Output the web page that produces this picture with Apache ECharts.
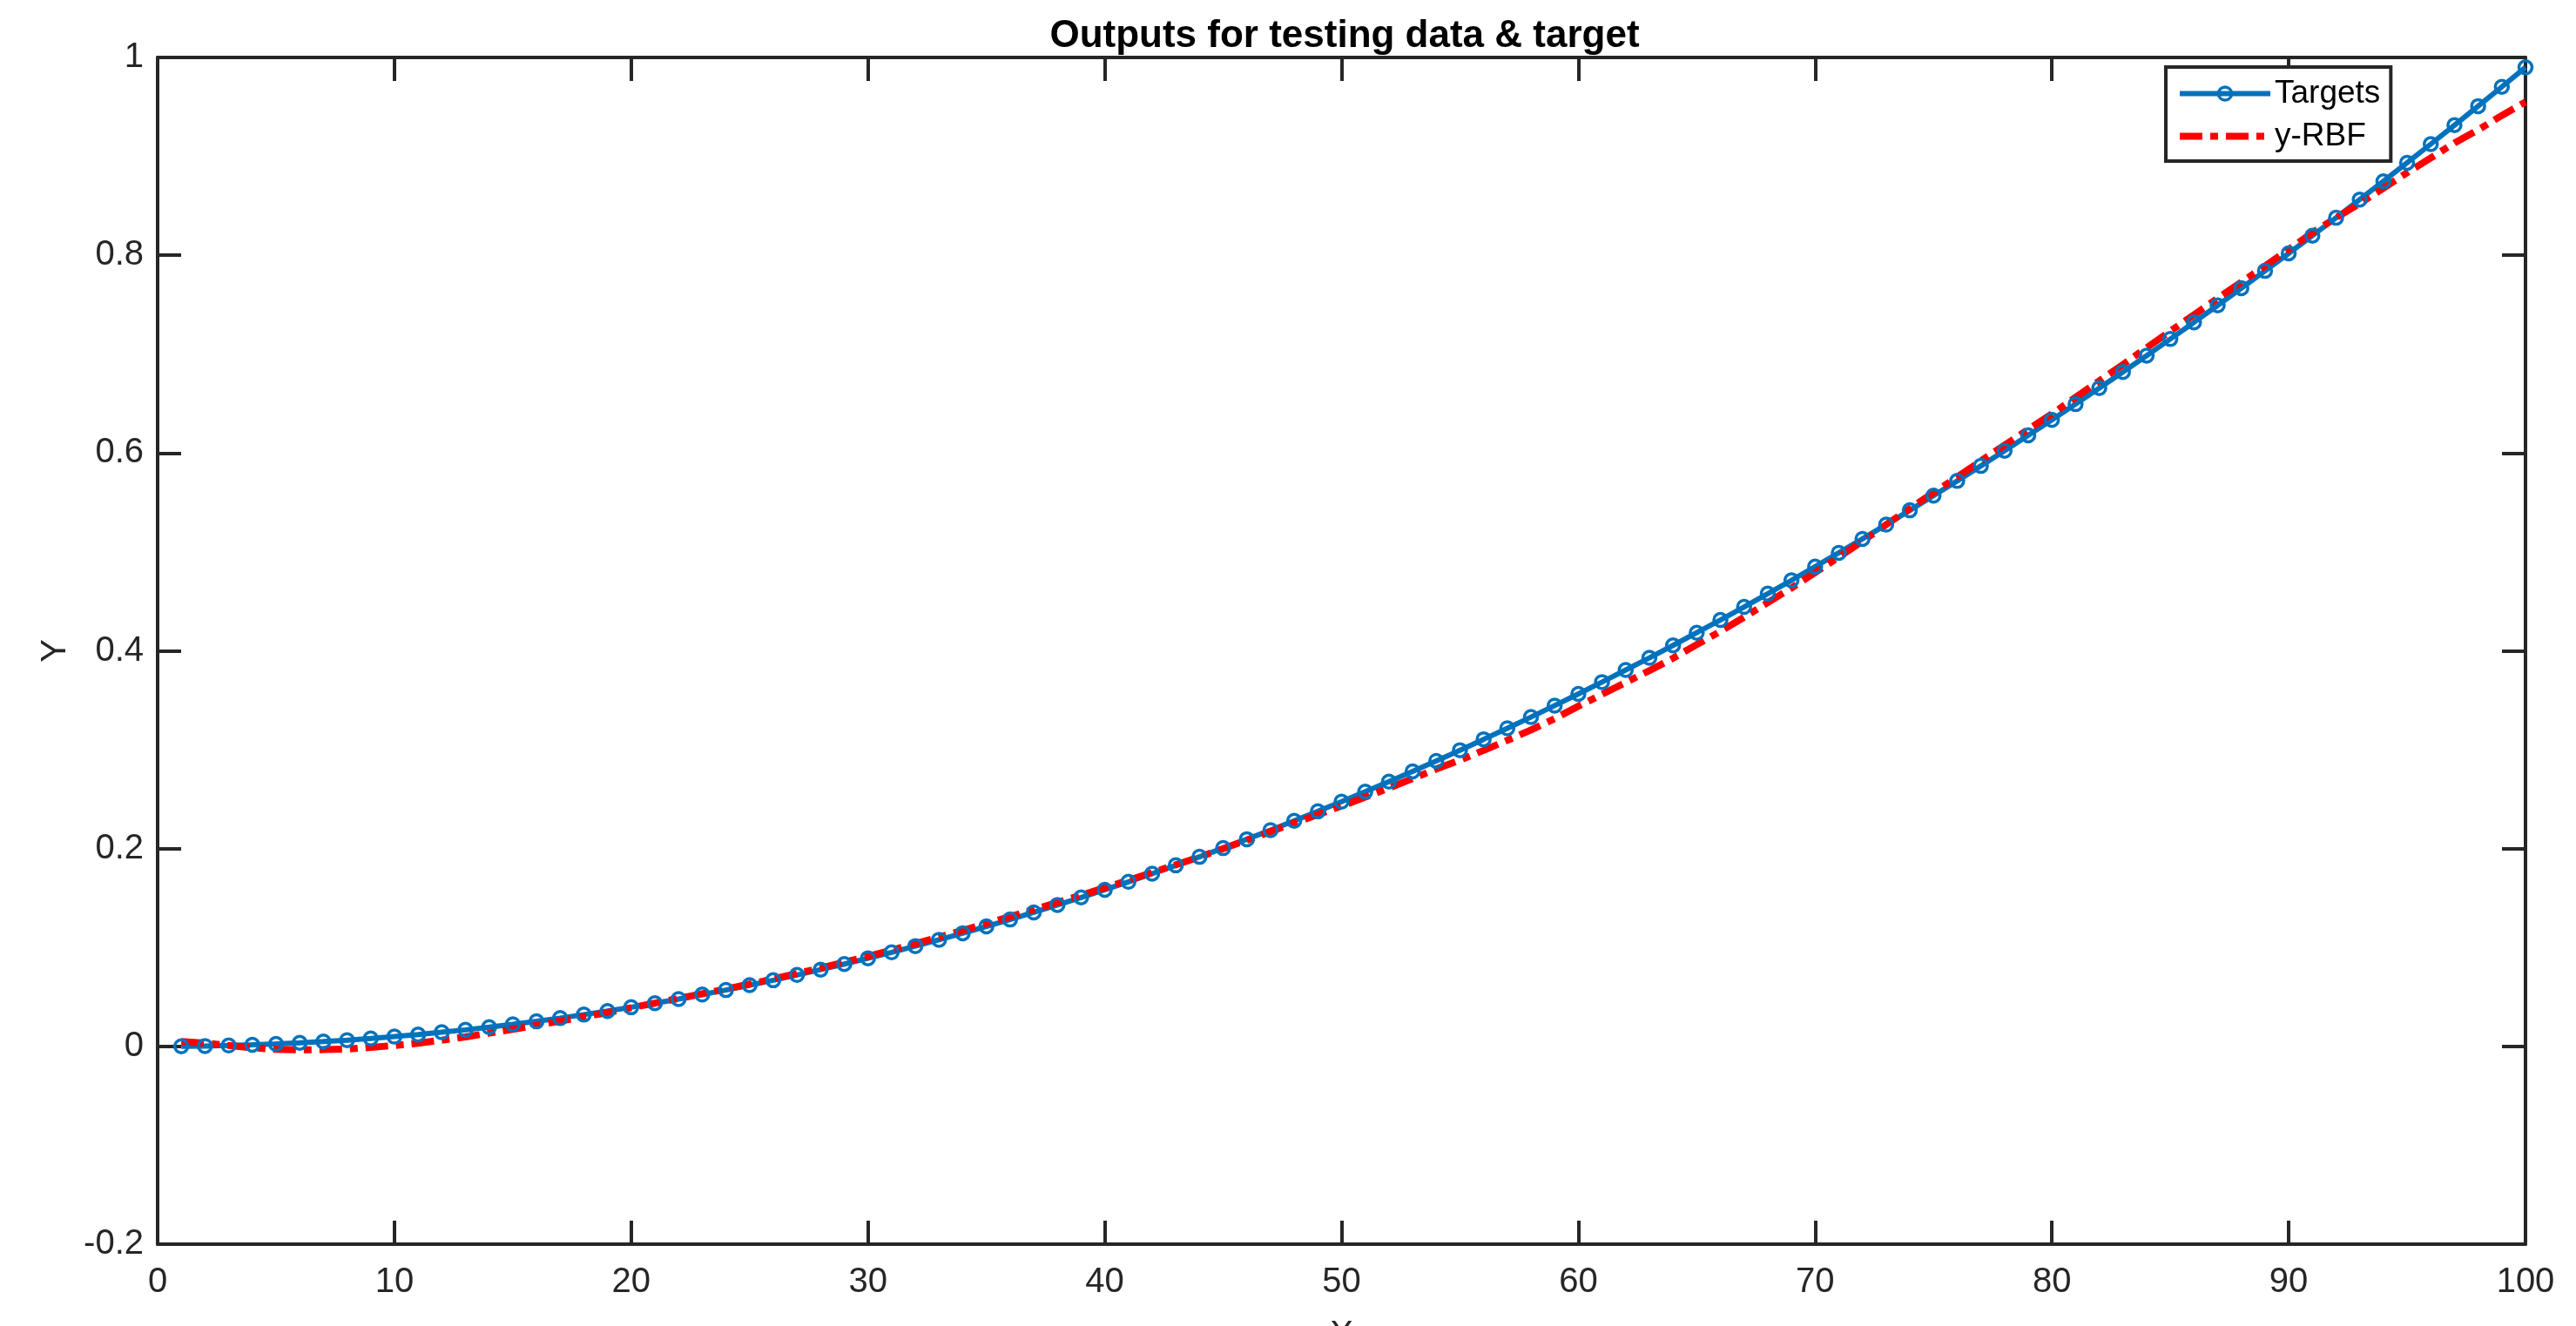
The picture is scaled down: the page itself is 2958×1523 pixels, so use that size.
<!DOCTYPE html>
<html>
<head>
<meta charset="utf-8">
<title>Outputs for testing data & target</title>
<script src="https://cdn.jsdelivr.net/npm/echarts@6/dist/echarts.min.js"></script>
<style>
  html, body { margin: 0; padding: 0; background: #fff; }
  #chart { width: 2958px; height: 1523px; }
</style>
</head>
<body>
<div id="chart"></div>
<script>
// sample index (1..100)
const xs = [
  1, 2, 3, 4, 5, 6, 7, 8, 9, 10,
  11, 12, 13, 14, 15, 16, 17, 18, 19, 20,
  21, 22, 23, 24, 25, 26, 27, 28, 29, 30,
  31, 32, 33, 34, 35, 36, 37, 38, 39, 40,
  41, 42, 43, 44, 45, 46, 47, 48, 49, 50,
  51, 52, 53, 54, 55, 56, 57, 58, 59, 60,
  61, 62, 63, 64, 65, 66, 67, 68, 69, 70,
  71, 72, 73, 74, 75, 76, 77, 78, 79, 80,
  81, 82, 83, 84, 85, 86, 87, 88, 89, 90,
  91, 92, 93, 94, 95, 96, 97, 98, 99, 100
]

// Targets
const targets = [
  0.0001, 0.0004, 0.0009, 0.0016, 0.0025, 0.0036, 0.0049, 0.0063, 0.0080, 0.0099,
  0.0120, 0.0143, 0.0167, 0.0194, 0.0223, 0.0253, 0.0286, 0.0321, 0.0357, 0.0396,
  0.0437, 0.0479, 0.0524, 0.0570, 0.0619, 0.0669, 0.0722, 0.0776, 0.0833, 0.0891,
  0.0951, 0.1014, 0.1078, 0.1144, 0.1213, 0.1283, 0.1355, 0.1430, 0.1506, 0.1584,
  0.1664, 0.1746, 0.1831, 0.1917, 0.2005, 0.2095, 0.2187, 0.2281, 0.2377, 0.2475,
  0.2575, 0.2677, 0.2781, 0.2887, 0.2995, 0.3105, 0.3217, 0.3330, 0.3446, 0.3564,
  0.3684, 0.3806, 0.3929, 0.4055, 0.4183, 0.4312, 0.4444, 0.4578, 0.4713, 0.4851,
  0.4991, 0.5132, 0.5276, 0.5421, 0.5569, 0.5718, 0.5870, 0.6023, 0.6179, 0.6336,
  0.6495, 0.6657, 0.6820, 0.6985, 0.7153, 0.7322, 0.7493, 0.7667, 0.7842, 0.8019,
  0.8198, 0.8379, 0.8563, 0.8748, 0.8935, 0.9124, 0.9315, 0.9508, 0.9703, 0.9900
]

// y-RBF network output
const yRbf = [
  0.0050, 0.0034, 0.0009, -0.0014, -0.0030, -0.0036, -0.0033, -0.0027, -0.0010, 0.0009,
  0.0032, 0.0063, 0.0095, 0.0134, 0.0173, 0.0213, 0.0256, 0.0300, 0.0342, 0.0391,
  0.0437, 0.0484, 0.0532, 0.0580, 0.0630, 0.0682, 0.0736, 0.0792, 0.0851, 0.0911,
  0.0973, 0.1038, 0.1104, 0.1172, 0.1243, 0.1312, 0.1383, 0.1455, 0.1528, 0.1604,
  0.1680, 0.1758, 0.1836, 0.1915, 0.2000, 0.2085, 0.2172, 0.2258, 0.2345, 0.2430,
  0.2520, 0.2612, 0.2708, 0.2805, 0.2895, 0.2993, 0.3095, 0.3200, 0.3314, 0.3440,
  0.3560, 0.3680, 0.3800, 0.3925, 0.4063, 0.4197, 0.4340, 0.4488, 0.4635, 0.4791,
  0.4948, 0.5108, 0.5276, 0.5440, 0.5599, 0.5758, 0.5920, 0.6080, 0.6239, 0.6396,
  0.6563, 0.6730, 0.6895, 0.7065, 0.7233, 0.7398, 0.7565, 0.7727, 0.7892, 0.8059,
  0.8228, 0.8379, 0.8523, 0.8678, 0.8835, 0.8984, 0.9135, 0.9268, 0.9413, 0.9550
]

const axisColor = '#262626'
const blue = '#0072BD'
const red = '#FF0000'
const fontFamily = '"Liberation Sans", Arial, Helvetica, sans-serif'
const rbfDash = [26, 9, 9, 9]

const chart = echarts.init(document.getElementById('chart'), null, { renderer: 'canvas' })

const pairs = (ys) => xs.map((x, i) => [x, ys[i]])

// 四边框：主轴带标签，副轴只画线和刻度
const baseAxisLine = { show: true, onZero: false, lineStyle: { color: axisColor, width: 4 } }
const baseTick = { show: true, inside: true, length: 27, lineStyle: { color: axisColor, width: 4 } }

chart.setOption({
  backgroundColor: '#fff',
  animation: false,
  textStyle: { fontFamily },
  title: {
    text: 'Outputs for testing data & target',
    left: 1539,
    textAlign: 'center',
    top: 15,
    textStyle: { fontFamily, fontWeight: 'bold', fontSize: 44, color: '#000' }
  },
  // X 轴名称在原图里被画布底边截掉一半，这里关掉 v6 的自动收缩
  grid: { left: 181, right: 58, top: 66, bottom: 94, containLabel: false, outerBoundsMode: 'none' },
  legend: {
    orient: 'vertical',
    left: 2487,
    top: 77,
    padding: [12, 12, 10, 12],
    itemWidth: 104,
    itemHeight: 19,
    itemGap: 12,
    backgroundColor: '#fff',
    borderColor: axisColor,
    borderWidth: 4,
    borderRadius: 0,
    textStyle: { fontFamily, fontSize: 37, color: '#000', lineHeight: 36 },
    data: [
      { name: 'Targets', lineStyle: { width: 6 }, itemStyle: { borderWidth: 3.5 } },
      { name: 'y-RBF', lineStyle: { width: 8, type: rbfDash }, itemStyle: { opacity: 0 } }
    ]
  },
  xAxis: [
    {
      type: 'value', position: 'bottom', min: 0, max: 100, interval: 10,
      name: 'X', nameLocation: 'middle', nameGap: 85, nameMoveOverlap: false,
      nameTextStyle: { fontFamily, fontSize: 40, color: axisColor },
      axisLine: baseAxisLine, axisTick: baseTick,
      axisLabel: { fontFamily, fontSize: 40, color: axisColor, margin: 24 },
      splitLine: { show: false }
    },
    {
      type: 'value', position: 'top', min: 0, max: 100, interval: 10,
      axisLine: baseAxisLine, axisTick: baseTick,
      axisLabel: { show: false }, splitLine: { show: false }
    }
  ],
  yAxis: [
    {
      type: 'value', position: 'left', min: -0.2, max: 1, interval: 0.2,
      name: 'Y', nameLocation: 'middle', nameGap: 97, nameMoveOverlap: false,
      nameTextStyle: { fontFamily, fontSize: 40, color: axisColor },
      axisLine: baseAxisLine, axisTick: baseTick,
      axisLabel: { fontFamily, fontSize: 40, color: axisColor, margin: 16 },
      splitLine: { show: false }
    },
    {
      type: 'value', position: 'right', min: -0.2, max: 1, interval: 0.2,
      axisLine: baseAxisLine, axisTick: baseTick,
      axisLabel: { show: false }, splitLine: { show: false }
    }
  ],
  series: [
    {
      name: 'Targets',
      type: 'line',
      data: pairs(targets),
      color: blue,
      symbol: 'circle',
      symbolSize: 15,
      showAllSymbol: true,
      itemStyle: { color: 'rgba(255,255,255,0)', borderColor: blue, borderWidth: 3.5 },
      lineStyle: { color: blue, width: 6 },
      emphasis: { disabled: true }
    },
    {
      name: 'y-RBF',
      type: 'line',
      data: pairs(yRbf),
      color: red,
      symbol: 'none',
      lineStyle: { color: red, width: 8, type: rbfDash, cap: 'butt' },
      emphasis: { disabled: true }
    }
  ]
})
</script>
</body>
</html>
